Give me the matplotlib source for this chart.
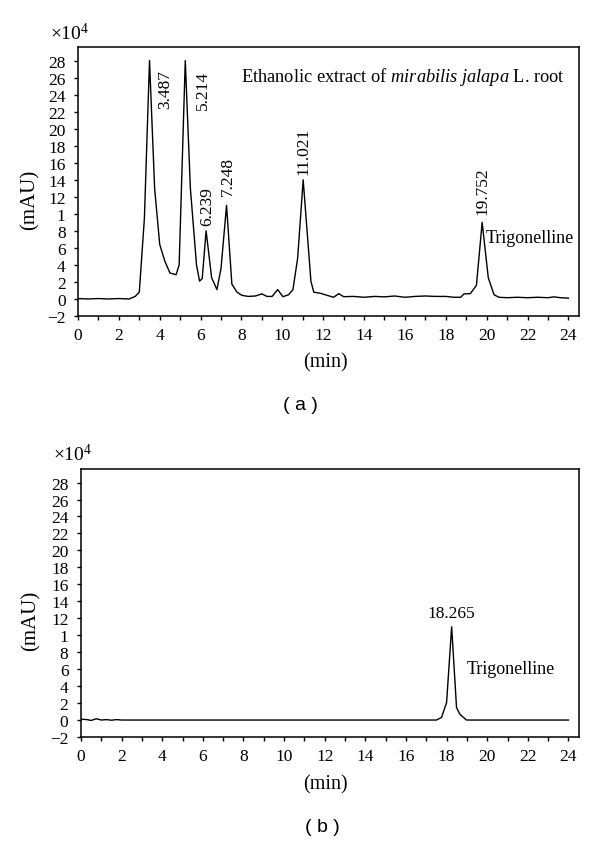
import matplotlib
matplotlib.use("Agg")
from matplotlib import pyplot as plt

plt.rcParams['font.family'] = ['Liberation Serif', 'DejaVu Serif']
plt.rcParams['mathtext.fontset'] = 'custom'
plt.rcParams['mathtext.rm'] = 'Liberation Serif'
plt.rcParams['mathtext.it'] = 'Liberation Serif:italic'

# panel (a): ethanolic extract, time in min, signal in 1e4 mAU
time_a = [0, 0.5, 1.0, 1.5, 2.0, 2.5, 2.8, 3.0, 3.25, 3.5, 3.75, 4.0, 4.25,
          4.5, 4.8, 4.95, 5.25, 5.5, 5.8, 5.95, 6.08, 6.27, 6.54, 6.8, 7.0,
          7.27, 7.53, 7.78, 8.02, 8.33, 8.68, 9.0, 9.25, 9.5, 9.77, 10.03,
          10.31, 10.52, 10.75, 11.02, 11.4, 11.54, 11.86, 12.19, 12.51, 12.76,
          13.0, 13.5, 14.0, 14.5, 15.0, 15.5, 16.0, 16.5, 17.0, 17.5, 18.0,
          18.4, 18.73, 18.89, 19.2, 19.5, 19.78, 20.08, 20.36, 20.6, 21.0,
          21.5, 22.0, 22.5, 23.0, 23.3, 23.6, 24.0]
signal_a = [0.05, 0.0, 0.05, 0.0, 0.05, 0.0, 0.3, 0.8, 9.5, 28.0, 13.0, 6.4,
            4.45, 3.05, 2.85, 4.0, 28.0, 13.0, 4.0, 2.1, 2.4, 8.0, 2.5, 1.1,
            3.6, 11.0, 1.75, 0.8, 0.43, 0.3, 0.35, 0.6, 0.3, 0.3, 1.1, 0.27,
            0.5, 1.1, 4.8, 14.0, 2.07, 0.8, 0.67, 0.43, 0.2, 0.62, 0.27, 0.3,
            0.2, 0.3, 0.25, 0.35, 0.2, 0.3, 0.35, 0.3, 0.3, 0.2, 0.2, 0.6,
            0.62, 1.6, 9.0, 2.5, 0.5, 0.2, 0.15, 0.2, 0.15, 0.2, 0.15, 0.25,
            0.15, 0.1]

# panel (b): trigonelline standard
time_b = [0, 0.3, 0.5, 0.75, 1.0, 1.25, 1.5, 1.75, 2.0, 17.5, 17.75, 18.0,
          18.25, 18.49, 18.66, 18.98, 24.0]
signal_b = [0.1, 0.05, -0.05, 0.15, 0.0, 0.05, -0.02, 0.05, 0.0, 0.0, 0.3,
            2.05, 11.0, 1.46, 0.67, 0.0, 0.0]

peaks_a = [(3.487, '3.487'), (5.214, '5.214'), (6.239, '6.239'),
           (7.248, '7.248'), (11.021, '11.021'), (19.752, '19.752')]

yticks = list(range(-2, 30, 2))
ylabels = ['\u22122' if v == -2 else ('1' if v == 10 else str(v)) for v in yticks]

W, H = 600, 845
fig = plt.figure(figsize=(W / 100, H / 100), dpi=100)


def px_axes(l, t, r, b):
    return fig.add_axes([l / W, 1 - b / H, (r - l) / W, (b - t) / H])


def style(ax):
    ax.set_xlim(0, 24.52)
    ax.set_ylim(-2, 29.6)
    ax.set_xticks(range(0, 25, 2))
    ax.set_xticks(range(1, 25, 2), minor=True)
    ax.set_yticks(yticks)
    ax.set_yticklabels(ylabels)
    ax.tick_params(axis='both', which='both', direction='out', length=3,
                   width=1, labelsize=12.5)
    ax.tick_params(axis='x', pad=5)
    ax.tick_params(axis='y', pad=6)
    for s in ax.spines.values():
        s.set_linewidth(1.1)


ax1 = px_axes(78, 48, 579, 317)
ax1.plot(time_a, signal_a, color='black', lw=1.0)
style(ax1)

ax2 = px_axes(81, 470, 579, 738)
ax2.plot(time_b, signal_b, color='black', lw=1.0)
style(ax2)

# panel (a) texts
fig.text(50 / W, 1 - 33 / H, r'$\times$10$^{4}$', fontsize=14, va='center')
fig.text(30 / W, 1 - 200 / H, '(mAU)', fontsize=15, rotation=90,
         ha='center', va='center')
fig.text(325 / W, 1 - 363 / H, '(min)', fontsize=14.5, ha='center', va='center')
fig.text(300 / W, 1 - 406 / H, '( a )', fontsize=14, ha='center', va='center',
         family='Liberation Sans')
fig.text(565 / W, 1 - 77 / H,
         r'Ethanolic extract of $\mathit{mirabilis\ jalapa}$ L. root',
         fontsize=13.2, ha='right', va='center')

label_pos = {'3.487': (165, 90), '5.214': (203, 90), '6.239': (207, 207),
             '7.248': (228, 176), '11.021': (303, 151), '19.752': (482, 191)}
for t, lab in peaks_a:
    x, y = label_pos[lab]
    fig.text(x / W, 1 - y / H, lab, fontsize=12.5, rotation=90,
             ha='center', va='center')
fig.text(486 / W, 1 - 239 / H, 'Trigonelline', fontsize=13, ha='left',
         va='center')

# panel (b) texts
fig.text(53 / W, 1 - 455 / H, r'$\times$10$^{4}$', fontsize=14, va='center')
fig.text(31 / W, 1 - 621 / H, '(mAU)', fontsize=15, rotation=90,
         ha='center', va='center')
fig.text(325 / W, 1 - 785 / H, '(min)', fontsize=14.5, ha='center', va='center')
fig.text(322 / W, 1 - 828 / H, '( b )', fontsize=14, ha='center', va='center',
         family='Liberation Sans')
fig.text(451.5 / W, 1 - 614 / H, '18.265', fontsize=12.5, ha='center',
         va='center')
fig.text(467 / W, 1 - 670 / H, 'Trigonelline', fontsize=13, ha='left',
         va='center')

plt.savefig('out.png', dpi=100)
